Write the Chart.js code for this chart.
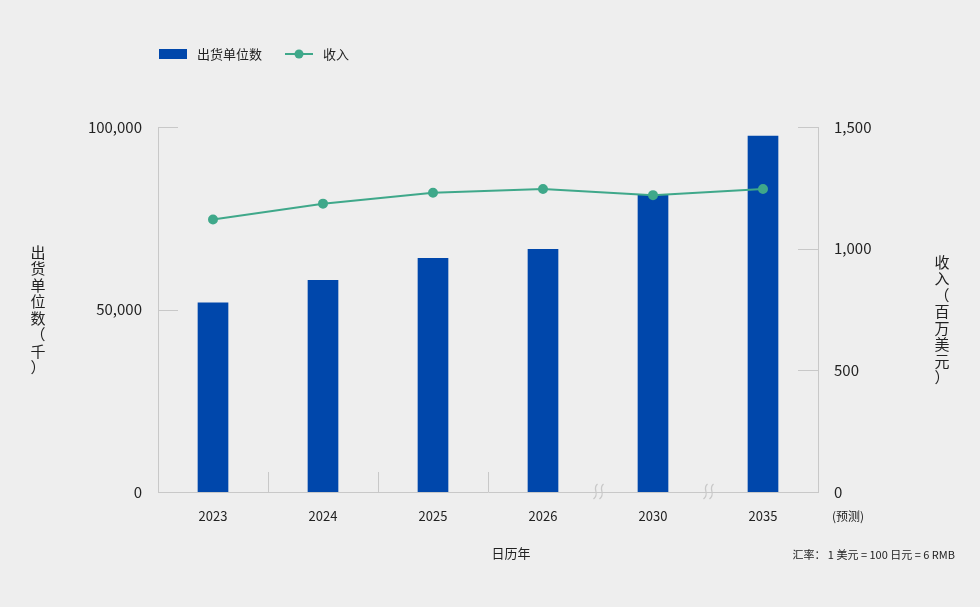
<!DOCTYPE html>
<html>
<head>
<meta charset="utf-8">
<script src="https://cdn.jsdelivr.net/npm/chart.js@4"></script>
<style>
  html, body { margin: 0; padding: 0; background: #eeeeee; }
  #wrap { width: 980px; height: 607px; }
</style>
</head>
<body>
<div id="wrap"><canvas id="c" width="980" height="607"></canvas></div>
<script>
// Chart data
const years = ['2023', '2024', '2025', '2026', '2030', '2035'];
const units = [51800, 58000, 64000, 66500, 81500, 97500];
const revenue = [1120, 1185, 1230, 1245, 1220, 1245];
const breaks = [4, 5]; // gaps (before index) that get a break mark

const FONT = '"Noto Sans CJK SC", "Noto Sans", sans-serif';
const GRID = '#c8c8c8';

const decor = {
  id: 'decor',
  afterDraw(chart) {
    const ctx = chart.ctx;
    const a = chart.chartArea;
    const x = chart.scales.x, yl = chart.scales.y, yr = chart.scales.y1;
    ctx.save();
    ctx.strokeStyle = GRID;
    ctx.lineWidth = 1;
    // short tick stubs
    [50000, 100000].forEach(v => {
      const py = Math.round(yl.getPixelForValue(v)) + 0.5;
      ctx.beginPath(); ctx.moveTo(a.left, py); ctx.lineTo(a.left + 20, py); ctx.stroke();
    });
    [500, 1000, 1500].forEach(v => {
      const py = Math.round(yr.getPixelForValue(v)) + 0.5;
      ctx.beginPath(); ctx.moveTo(a.right - 20, py); ctx.lineTo(a.right, py); ctx.stroke();
    });
    // category separators and break marks
    for (let i = 1; i < years.length; i++) {
      const px = Math.round((x.getPixelForValue(i - 1) + x.getPixelForValue(i)) / 2) + 0.5;
      if (breaks.includes(i)) {
        ctx.strokeStyle = '#c8c8c8';
        ctx.lineWidth = 1.3;
        [-3, 3].forEach(off => {
          ctx.beginPath();
          ctx.moveTo(px + off + 2, a.bottom - 8);
          ctx.bezierCurveTo(px + off - 4, a.bottom - 3, px + off + 5, a.bottom + 1, px + off - 2, a.bottom + 7);
          ctx.stroke();
        });
        ctx.lineWidth = 1;
        ctx.strokeStyle = GRID;
      } else {
        ctx.beginPath(); ctx.moveTo(px, a.bottom - 20); ctx.lineTo(px, a.bottom); ctx.stroke();
      }
    }
    ctx.fillStyle = '#222';
    ctx.textBaseline = 'middle';
    // legend
    ctx.fillStyle = '#0047ab';
    ctx.fillRect(159, 49, 28, 10);
    ctx.fillStyle = '#222';
    ctx.font = '13px ' + FONT;
    ctx.textAlign = 'left';
    ctx.fillText('出货单位数', 197, 54);
    ctx.strokeStyle = '#3fa88a'; ctx.lineWidth = 2;
    ctx.beginPath(); ctx.moveTo(285, 54); ctx.lineTo(313, 54); ctx.stroke();
    ctx.fillStyle = '#3fa88a';
    ctx.beginPath(); ctx.arc(299, 54, 4.5, 0, Math.PI * 2); ctx.fill();
    ctx.fillStyle = '#222';
    ctx.fillText('收入', 323, 54);
    // vertical axis titles
    ctx.font = '15px ' + FONT;
    ctx.textAlign = 'center';
    const stack = (txt, cx, y0, step) => {
      [...txt].forEach((ch, i) => ctx.fillText(ch, cx, y0 + i * step));
    };
    stack('出货单位数（千）', 38, 252, 16.5);
    stack('收入（百万美元）', 942, 262, 16.5);
    // misc labels
    ctx.font = '12px ' + FONT;
    ctx.textAlign = 'left';
    ctx.fillText('(预测)', 832, 516);
    ctx.font = '13px ' + FONT;
    ctx.textAlign = 'center';
    ctx.fillText('日历年', 511, 553);
    ctx.font = '11px ' + FONT;
    ctx.textAlign = 'right';
    ctx.fillText('汇率： 1 美元 = 100 日元 = 6 RMB', 955, 555);
    ctx.restore();
  }
};

new Chart(document.getElementById('c'), {
  data: {
    labels: years,
    datasets: [
      {
        type: 'line', label: '收入', data: revenue, yAxisID: 'y1',
        borderColor: '#3fa88a', backgroundColor: '#3fa88a', borderWidth: 2,
        pointRadius: 4, pointHoverRadius: 4, tension: 0, order: 0
      },
      {
        type: 'bar', label: '出货单位数', data: units, yAxisID: 'y',
        backgroundColor: '#0047ab', barThickness: 30, order: 1
      }
    ]
  },
  plugins: [decor],
  options: {
    responsive: false,
    animation: false,
    devicePixelRatio: 1,
    layout: { padding: { top: 127, bottom: 0, left: 0, right: 0 } },
    plugins: { legend: { display: false }, tooltip: { enabled: false } },
    scales: {
      x: {
        grid: { display: false, drawTicks: false },
        border: { color: GRID },
        ticks: { color: '#222', font: { family: FONT, size: 13 }, padding: 16 },
        afterFit(s) { s.height = 115; }
      },
      y: {
        position: 'left', min: 0, max: 100000,
        grid: { display: false, drawTicks: false },
        border: { color: GRID },
        ticks: {
          stepSize: 50000, color: '#222', padding: 16,
          font: { family: FONT, size: 15 },
          callback: v => v.toLocaleString('en-US')
        },
        afterFit(s) { s.width = 158; }
      },
      y1: {
        position: 'right', min: 0, max: 1500,
        grid: { display: false, drawTicks: false },
        border: { color: GRID },
        ticks: {
          stepSize: 500, color: '#222', padding: 16,
          font: { family: FONT, size: 15 },
          callback: v => v.toLocaleString('en-US')
        },
        afterFit(s) { s.width = 162; }
      }
    }
  }
});
</script>
</body>
</html>
